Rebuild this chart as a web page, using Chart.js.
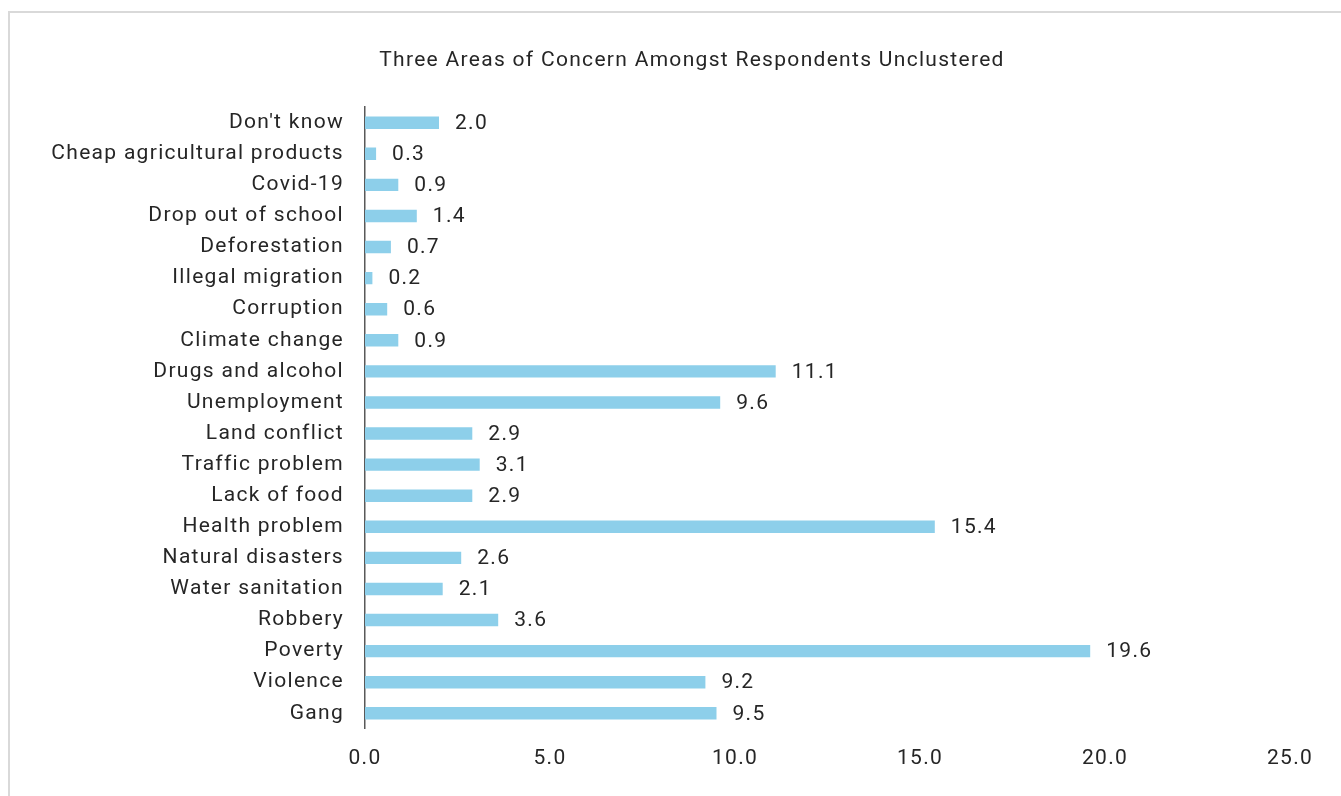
<!DOCTYPE html>
<html>
<head>
<meta charset="utf-8">
<script src="https://cdn.jsdelivr.net/npm/chart.js@4"></script>
<style>
  html, body { margin: 0; padding: 0; background: #fff; overflow: hidden; }
  #frame { position: absolute; left: 8px; top: 11px; width: 1400px; height: 800px; border: 2px solid #d9d9d9; box-sizing: border-box; }
  #wrap { position: absolute; left: 10px; top: 16px; width: 1331px; height: 780px; }
</style>
</head>
<body>
<div id="frame"></div>
<div id="wrap"><canvas id="c"></canvas></div>
<script>
const categories = ["Don't know", "Cheap agricultural products", "Covid-19", "Drop out of school", "Deforestation", "Illegal migration", "Corruption", "Climate change", "Drugs and alcohol", "Unemployment", "Land conflict", "Traffic problem", "Lack of food", "Health problem", "Natural disasters", "Water sanitation", "Robbery", "Poverty", "Violence", "Gang"];
const values = [2.0, 0.3, 0.9, 1.4, 0.7, 0.2, 0.6, 0.9, 11.1, 9.6, 2.9, 3.1, 2.9, 15.4, 2.6, 2.1, 3.6, 19.6, 9.2, 9.5];
const xTicks = [0, 5, 10, 15, 20, 25];
const title = "Three Areas of Concern Amongst Respondents Unclustered";

const FONT = "Roboto, 'Noto Sans', sans-serif";
const TEXT = "#262626";
const SPACING = "1.3px";

const spacingPlugin = {
  id: 'spacing',
  beforeLayout(chart) { chart.ctx.letterSpacing = SPACING; },
  afterLayout(chart) {
    // the outer chart frame is wider than the visible window; centre the title on it
    const t = chart.titleBlock;
    if (t) { t.left = 0; t.right = 1364; t.width = 1364; }
  },
  beforeDraw(chart) { chart.ctx.letterSpacing = SPACING; }
};

const labelPlugin = {
  id: 'barLabels',
  afterDatasetsDraw(chart) {
    const ctx = chart.ctx;
    const meta = chart.getDatasetMeta(0);
    ctx.save();
    ctx.letterSpacing = SPACING;
    ctx.font = "21px " + FONT;
    ctx.fillStyle = TEXT;
    ctx.textAlign = 'left';
    ctx.textBaseline = 'middle';
    meta.data.forEach((bar, i) => {
      ctx.fillText(values[i].toFixed(1), bar.x + 16, bar.y + 1);
    });
    ctx.restore();
  }
};

new Chart(document.getElementById('c'), {
  type: 'bar',
  data: {
    labels: categories,
    datasets: [{
      data: values,
      backgroundColor: '#8dcfea',
      borderWidth: 0,
      categoryPercentage: 1.0,
      barPercentage: 0.4
    }]
  },
  options: {
    indexAxis: 'y',
    responsive: true,
    maintainAspectRatio: false,
    animation: false,
    layout: { padding: { left: 0, right: 51, top: 0, bottom: 8 } },
    plugins: {
      legend: { display: false },
      tooltip: { enabled: false },
      title: {
        display: true,
        text: title,
        color: TEXT,
        font: { family: FONT, size: 21, weight: 'normal' },
        padding: { top: 32, bottom: 34 }
      }
    },
    scales: {
      x: {
        min: 0, max: 25,
        afterBuildTicks(scale) { scale.ticks = xTicks.map(v => ({ value: v })); },
        grid: { display: false, drawTicks: false },
        border: { display: false },
        ticks: {
          color: TEXT,
          font: { family: FONT, size: 21 },
          padding: 17,
          callback: (v) => Number(v).toFixed(1)
        }
      },
      y: {
        afterFit(scale) { scale.width = 355; },
        grid: { display: false, drawTicks: false },
        border: { display: true, color: '#595959', width: 1.5 },
        ticks: {
          color: TEXT,
          font: { family: FONT, size: 21 },
          padding: 21,
          autoSkip: false
        }
      }
    }
  },
  plugins: [spacingPlugin, labelPlugin]
});
</script>
</body>
</html>
